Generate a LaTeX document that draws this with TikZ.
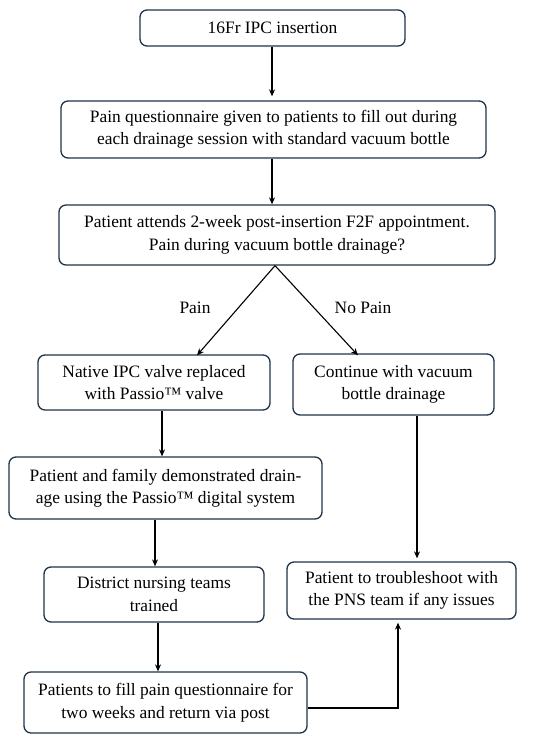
\documentclass[tikz,border=0pt]{standalone}
\usepackage{fontspec}
\setmainfont{Liberation Serif}
\usetikzlibrary{arrows.meta,calc}
\definecolor{boxline}{HTML}{1E3346}
\begin{document}
\begin{tikzpicture}[x=1pt,y=-1pt,
  box/.style={draw=boxline,line width=1.3pt,rounded corners=7pt,align=center,
    inner sep=0pt,font=\fontsize{17.4}{22.5}\selectfont},
  arr/.style={draw=black,line width=1.1pt,-{Stealth[length=7pt,width=6pt]}},
  lbl/.style={font=\fontsize{17.4}{22.5}\selectfont}]
\useasboundingbox (0,0) rectangle (550,743);
\node[box,minimum width=265pt,minimum height=36pt] (B1) at (272.5,28) {16Fr IPC insertion};
\node[box,minimum width=425pt,minimum height=57pt] (B2) at (273.5,129.5) {Pain questionnaire given to patients to fill out during\\each drainage session with standard vacuum bottle};
\node[box,minimum width=436pt,minimum height=60pt] (B3) at (277,235) {Patient attends 2-week post-insertion F2F appointment.\\Pain during vacuum bottle drainage?};
\node[box,minimum width=232pt,minimum height=55pt] (B4) at (154,382.5) {Native IPC valve replaced\\with Passio™ valve};
\node[box,minimum width=201pt,minimum height=61pt] (BR) at (393.5,384.5) {Continue with vacuum\\bottle drainage};
\node[box,minimum width=313pt,minimum height=62pt] (B5) at (165.5,488) {Patient and family demonstrated drain-\\age using the Passio™ digital system};
\node[box,minimum width=220pt,minimum height=55pt] (B6) at (154,594.5) {District nursing teams\\trained};
\node[box,minimum width=229pt,minimum height=57pt] (B8) at (401.5,590.5) {Patient to troubleshoot with\\the PNS team if any issues};
\node[box,minimum width=283pt,minimum height=61pt] (B7) at (165.5,702.5) {Patients to fill pain questionnaire for\\two weeks and return via post};
\node[lbl] (LP) at (195,308) {Pain};
\node[lbl] (LN) at (363,308) {No Pain};
\draw[arr,shorten >=4pt] ([xshift=-0.5pt]B1.south) -- ([xshift=-0.5pt]B1.south |- B2.north);
\draw[arr] ([xshift=-1.5pt]B2.south) -- ([xshift=-1.5pt]B2.south |- B3.north);
\draw[arr] ([xshift=-2pt]B3.south) -- ([xshift=43pt,yshift=-1pt]B4.north);
\draw[arr] ([xshift=-2pt]B3.south) -- ([xshift=-35.5pt,yshift=-2pt]BR.north);
\draw[arr] ([xshift=8pt]B4.south) -- ([xshift=8pt]B4.south |- B5.north);
\draw[arr] ([xshift=1pt]B6.north |- B5.south) -- ([xshift=1pt]B6.north);
\draw[arr] ([xshift=4pt]B6.south) -- ([xshift=4pt]B6.south |- B7.north);
\draw[arr,shorten >=3pt] ([xshift=23.5pt]BR.south) -- ([xshift=23.5pt]BR.south |- B8.north);
\draw[arr,shorten >=3pt] ([yshift=-5.5pt]B7.east) -| ([xshift=-3.5pt]B8.south);
\end{tikzpicture}
\end{document}
